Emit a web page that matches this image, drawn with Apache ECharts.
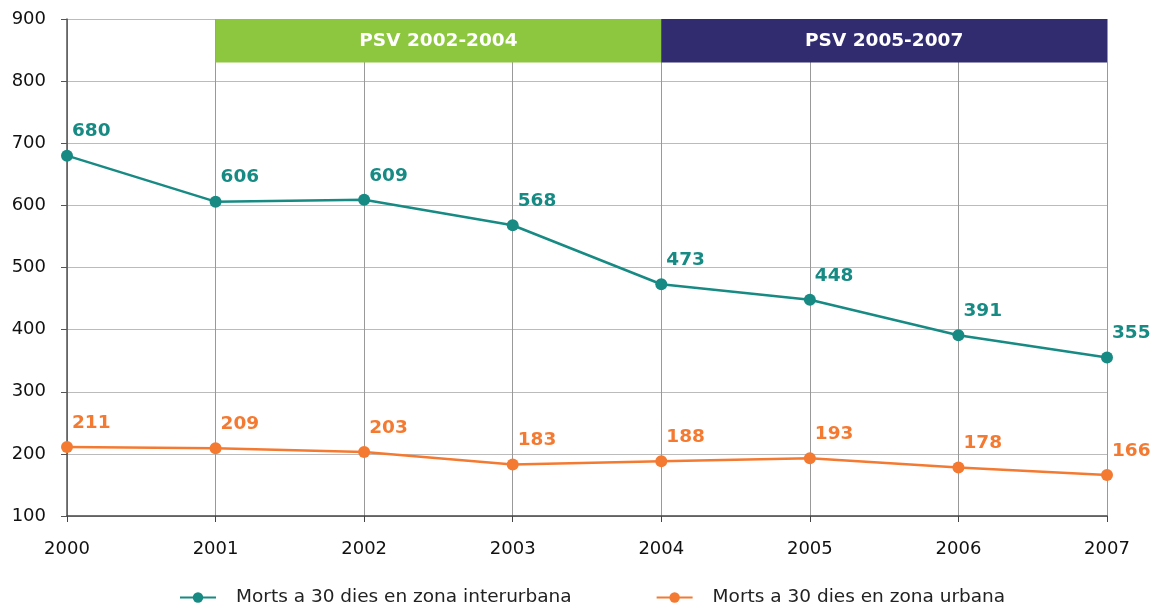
<!DOCTYPE html>
<html><head><meta charset="utf-8">
<script src="https://cdn.jsdelivr.net/npm/echarts@6/dist/echarts.min.js"></script>
<style>html,body{margin:0;padding:0;background:#fff}#c{width:1158px;height:612px}</style>
</head><body><div id="c"></div>
<script>
const years = ['2000','2001','2002','2003','2004','2005','2006','2007'];
const interurbana = [680,606,609,568,473,448,391,355];
const urbana = [211,209,203,183,188,193,178,166];
const seriesNames = ['Morts a 30 dies en zona interurbana','Morts a 30 dies en zona urbana'];
const periods = [
  {name:'PSV 2002-2004', from:'2001', to:'2004', color:'#8DC63F'},
  {name:'PSV 2005-2007', from:'2004', to:'2007', color:'#312C70'}
];
const bannerBottom = 830;

const font = '"DejaVu Sans", Verdana, sans-serif';
const teal = '#178A84', orange = '#F47A32';

function lbl(color){
  return {show:true, position:[11,-18], align:'left', verticalAlign:'middle',
    color:color, fontFamily:font, fontWeight:'bold', fontSize:18.5};
}

const chart = echarts.init(document.getElementById('c'));
chart.setOption({
  animation:false,
  textStyle:{fontFamily:font},
  grid:{left:67, right:51, top:19, bottom:96},
  legend:{left:174, bottom:0, itemGap:84, itemWidth:36, itemHeight:13,
    textStyle:{fontFamily:font, fontSize:18.5, color:'#222', padding:[0,0,0,15]},
    data:seriesNames},
  xAxis:{type:'category', data:years, boundaryGap:false,
    axisLine:{lineStyle:{color:'#444', width:1.5}},
    axisTick:{show:true, length:6, alignWithLabel:true, lineStyle:{color:'#444'}},
    axisLabel:{color:'#111', fontSize:18, fontFamily:font, margin:24},
    splitLine:{show:true, lineStyle:{color:'#999', width:1}}},
  yAxis:{type:'value', min:100, max:900, interval:100,
    axisLine:{show:true, lineStyle:{color:'#555', width:1.5}},
    axisTick:{show:true, length:6, lineStyle:{color:'#555'}},
    axisLabel:{color:'#111', fontSize:18, fontFamily:font, margin:21},
    splitLine:{lineStyle:{color:'#BBB', width:1.2}}},
  series:[
    {name:seriesNames[0], type:'line', data:interurbana, color:teal,
     symbol:'circle', symbolSize:12, lineStyle:{width:2.5, color:teal},
     itemStyle:{color:teal}, label:lbl(teal), z:3,
     markArea:{silent:true, data:periods.map(p=>[
       {xAxis:p.from, yAxis:bannerBottom, itemStyle:{color:p.color, opacity:1},
        label:{show:true, position:'inside', formatter:p.name, color:'#fff',
          fontFamily:font, fontWeight:'bold', fontSize:18.5}},
       {xAxis:p.to, yAxis:900}])}},
    {name:seriesNames[1], type:'line', data:urbana, color:orange,
     symbol:'circle', symbolSize:12, lineStyle:{width:2.5, color:orange},
     itemStyle:{color:orange}, label:lbl(orange), z:3}
  ]
});
</script></body></html>
